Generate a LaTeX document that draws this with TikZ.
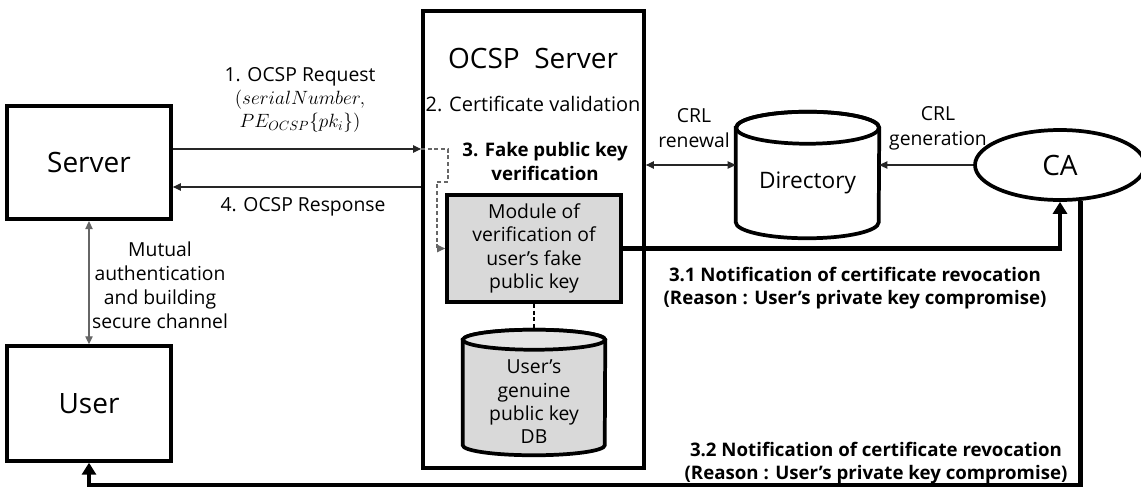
\documentclass[tikz,border=0pt]{standalone}
\usepackage{fontspec}
\setmainfont{Open Sans}
\usetikzlibrary{arrows.meta, positioning, shapes.geometric}

\tikzset{
  box/.style={draw, line width=2.8pt, fill=white, inner sep=0pt},
  bigtxt/.style={font=\fontsize{21pt}{25pt}\selectfont},
  lbl/.style={font=\fontsize{14.5pt}{17.5pt}\selectfont, align=center, inner sep=0pt},
  blbl/.style={font=\bfseries\fontsize{14pt}{17.3pt}\selectfont, align=center, inner sep=0pt},
  msg/.style={line width=0.9pt, draw=black!85, -{Triangle[length=6pt,width=5.5pt]}},
  notify/.style={line width=3.4pt, -{Triangle[length=9pt,width=10.5pt]}},
}

\begin{document}
\begin{tikzpicture}[x=0.75pt, y=-0.75pt]
    \useasboundingbox (0,0) rectangle (1141,489);
    % Server and user boxes
    \node[box, bigtxt, minimum width=123pt, minimum height=85pt] (server) at (89,162.5) {Server};
    \node[box, bigtxt, minimum width=123pt, minimum height=86pt] (user) at (89,403.5) {User};
    % OCSP server frame
    \node[box, minimum width=165.75pt, minimum height=342.75pt] (ocsp) at (533.5,239.5) {};
    \node[bigtxt, inner sep=0pt] (ocsptitle) at (533,58) {OCSP\ \ Server};
    \node[lbl, font=\fontsize{15pt}{18pt}\selectfont] (validlbl) at (533,104) {2. Certificate validation};
    \node[blbl] (fakelbl) at (545,161.5) {3. Fake public key\\verification};
    % Verification module
    \node[box, fill=gray!30, lbl, minimum width=130.5pt, minimum height=80.25pt] (module) at (534,248.5)
        {Module of\\verification of\\user's fake\\public key};
    % Genuine key database (cylinder)
    \node[minimum width=106.5pt, minimum height=93.75pt, inner sep=0pt] (userdb) at (534,392.5) {};
    \draw[line width=2.8pt, fill=gray!30] ([yshift=-7.5pt]userdb.north west) -- ([yshift=7.5pt]userdb.south west)
        arc[start angle=180, end angle=360, x radius=53.25pt, y radius=7.5pt]
        -- ([yshift=-7.5pt]userdb.north east)
        arc[start angle=0, end angle=180, x radius=53.25pt, y radius=7.5pt] -- cycle;
    \draw[line width=2.8pt, fill=gray!20] ([yshift=-7.5pt]userdb.north) ellipse [x radius=53.25pt, y radius=7.5pt];
    \node[lbl] (userdbtxt) at (534,402) {User's\\genuine\\public key\\DB};
    % Directory (cylinder)
    \node[minimum width=107.25pt, minimum height=94.5pt, inner sep=0pt] (directory) at (807.5,175) {};
    \draw[line width=2.8pt, fill=white] ([yshift=-12pt]directory.north west) -- ([yshift=12pt]directory.south west)
        arc[start angle=180, end angle=360, x radius=53.6pt, y radius=12pt]
        -- ([yshift=-12pt]directory.north east)
        arc[start angle=0, end angle=180, x radius=53.6pt, y radius=12pt] -- cycle;
    \draw[line width=2.8pt] ([yshift=-12pt]directory.north) ellipse [x radius=53.6pt, y radius=12pt];
    \node[font=\fontsize{17pt}{20pt}\selectfont, inner sep=0pt] (dirtxt) at (807.5,183) {Directory};
    % Certificate authority
    \node[draw, ellipse, line width=2.8pt, fill=white, bigtxt, inner sep=0pt,
          minimum width=127.5pt, minimum height=52.5pt] (ca) at (1060,165) {CA};

    % Request / response
    \coordinate (req) at (0,149);
    \coordinate (resp) at (0,187);
    \draw[msg] (server.east |- req) -- (ocsp.west |- req);
    \draw[msg] (ocsp.west |- resp) -- (server.east |- resp);
    \node[lbl] (reqlbl) at (300,100) {1. OCSP Request\\$(serialNumber,$\\$PE_{OCSP}\{pk_i\})$};
    \node[lbl] (resplbl) at (303,207) {4. OCSP Response};
    % Internal check path
    \draw[msg, draw=black!60, dash pattern=on 3pt off 2pt] (ocsp.west |- req) -| (448,182) -- (437,182) |- (module.west);
    \draw[line width=0.9pt, dash pattern=on 3pt off 2pt] (module.south) -- (userdb.north);
    % Mutual authentication
    \draw[msg, draw=black!60, {Triangle[length=6pt,width=5.5pt]}-{Triangle[length=6pt,width=5.5pt]}] (server.south) -- (user.north);
    \node[lbl, font=\fontsize{14.5pt}{18pt}\selectfont] (mutuallbl) at (160,285) {Mutual\\authentication\\and building\\secure channel};
    % CRL handling
    \draw[msg, {Triangle[length=6pt,width=5.5pt]}-{Triangle[length=6pt,width=5.5pt]}] (ocsp.east |- ca.west) -- (directory.west |- ca.west);
    \draw[msg] (ca.west) -- (directory.east |- ca.west);
    \node[lbl, font=\fontsize{14.5pt}{18.5pt}\selectfont] (renewlbl) at (694,128) {CRL\\renewal};
    \node[lbl, font=\fontsize{14.5pt}{18.5pt}\selectfont] (genlbl) at (938,128) {CRL\\generation};
    % Revocation notices
    \draw[notify] (module.east) -| (ca.south);
    \node[blbl] (note1) at (855,288.5) {3.1 Notification of certificate revocation\\(Reason : User's private key compromise)};
    \coordinate (bottomline) at (0,485);
    \draw[notify] (ca.-60) -- (ca.-60 |- bottomline) -| (user.south);
    \node[blbl] (note2) at (876,463.5) {3.2 Notification of certificate revocation\\(Reason : User's private key compromise)};
\end{tikzpicture}
\end{document}
